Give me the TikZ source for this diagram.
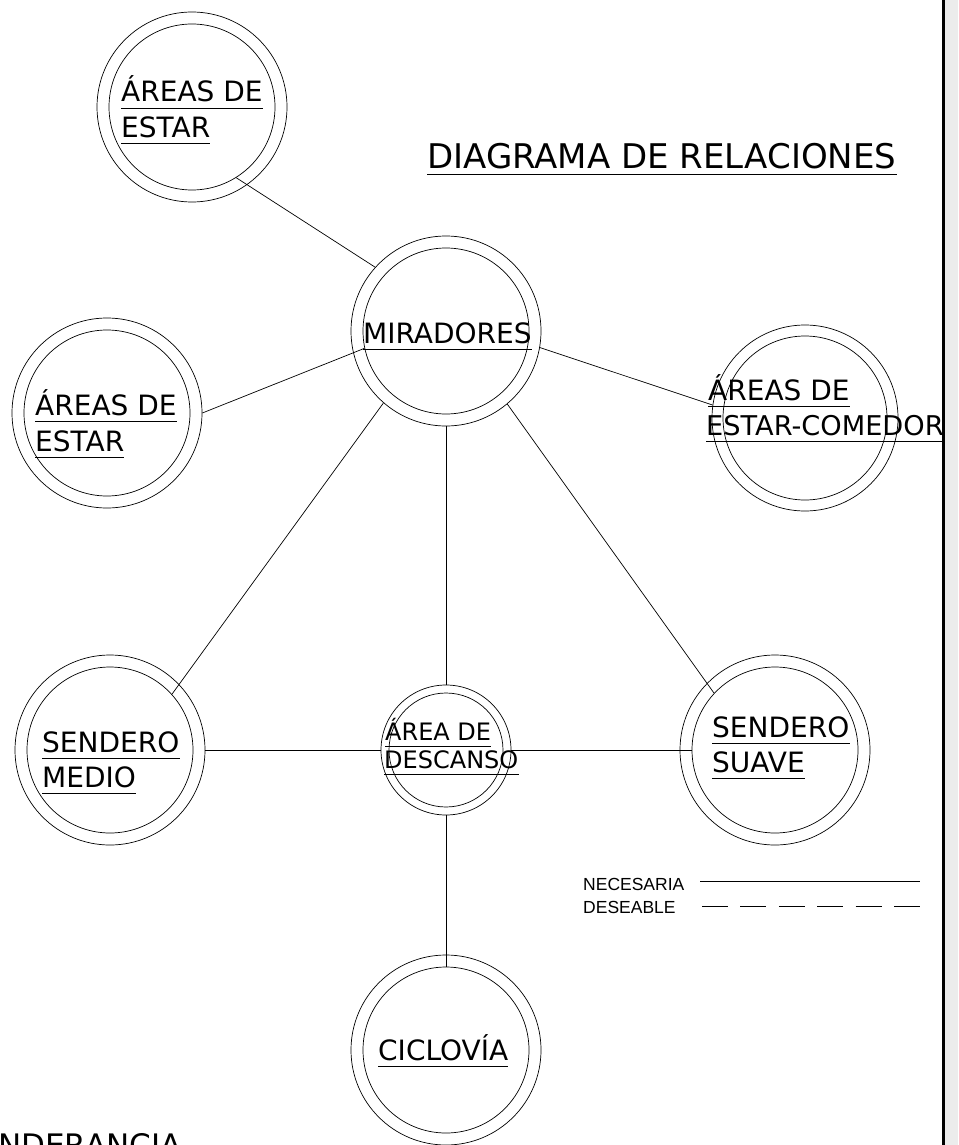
\documentclass[tikz,border=0pt]{standalone}
\usepackage{fontspec}
\setmainfont{DejaVu Sans}
\newfontfamily\leyenda{Liberation Sans}
\usetikzlibrary{positioning, shapes.geometric, calc}

\tikzset{
  anillo/.style={draw, circle, inner sep=0pt, line width=0.7pt, minimum size=190pt},
  nucleo/.style={draw, circle, inner sep=0pt, line width=0.7pt, minimum size=166pt},
  rotulo/.style={anchor=base west, inner sep=0pt, font=\fontsize{28}{34}\selectfont},
  rotulochico/.style={rotulo, font=\fontsize{24}{28}\selectfont},
  enlace/.style={line width=0.7pt},
}

\begin{document}
\begin{tikzpicture}[x=1pt, y=-1pt]
  \useasboundingbox (0,0) rectangle (958,1145);

  % borde derecho de la lamina
  \fill[gray!15] (945,0) rectangle (958,1145);
  \draw[line width=3pt] (943,0) -- (943,1145);

  % titulo
  \node[anchor=base west, inner sep=0pt, font=\fontsize{34}{40}\selectfont] (titulo) at (427,168) {DIAGRAMA DE RELACIONES};

  % espacios (anillo exterior e interior)
  \node[anillo] (estA) at (192,107) {};
  \node[nucleo] (estA-in) at (estA) {};
  \node[anillo] (mir) at (446,331) {};
  \node[nucleo] (mir-in) at (mir) {};
  \node[anillo] (estB) at (107,413) {};
  \node[nucleo] (estB-in) at (estB) {};
  \node[anillo, minimum size=186pt] (com) at (805,418) {};
  \node[nucleo, minimum size=164pt] (com-in) at (com) {};
  \node[anillo] (smed) at (110,750) {};
  \node[nucleo] (smed-in) at (smed) {};
  \node[anillo, minimum size=130pt] (desc) at (446,750) {};
  \node[nucleo, minimum size=114pt] (desc-in) at (desc) {};
  \node[anillo] (suave) at (775,750) {};
  \node[nucleo] (suave-in) at (suave) {};
  \node[anillo] (cic) at (446,1050) {};
  \node[nucleo] (cic-in) at (cic) {};

  % relaciones
  \draw[enlace] (estA-in.302) -- (mir.138);
  \draw[enlace] (estB.east) -- (mir-in.192);
  \draw[enlace] (mir.350) -- (com.172);
  \draw[enlace] (mir.229) -- (smed-in.42);
  \draw[enlace] (mir.310) -- (suave-in.137);
  \draw[enlace] (mir.south) -- (desc.north);
  \draw[enlace] (smed.east) -- (desc.west);
  \draw[enlace] (desc.east) -- (suave-in.west);
  \draw[enlace] (desc.south) -- (cic-in.north);

  % rotulos
  \node[rotulo] (estA1) at (121,102) {ÁREAS DE};
  \node[rotulo] (estA2) at (121,137) {ESTAR};
  \node[rotulo] (mir1) at (363,343) {MIRADORES};
  \node[rotulo] (estB1) at (35,415) {ÁREAS DE};
  \node[rotulo] (estB2) at (35,451) {ESTAR};
  \node[rotulo] (com1) at (708,400) {ÁREAS DE};
  \node[rotulo, font=\fontsize{27.2}{34}\selectfont] (com2) at (706,435) {ESTAR-COMEDOR};
  \node[rotulo] (smed1) at (42,752) {SENDERO};
  \node[rotulo] (smed2) at (42,787) {MEDIO};
  \node[rotulochico] (desc1) at (385,740) {ÁREA DE};
  \node[rotulochico] (desc2) at (384,768) {DESCANSO};
  \node[rotulo] (suave1) at (712,737) {SENDERO};
  \node[rotulo] (suave2) at (712,772) {SUAVE};
  \node[rotulo] (cic1) at (378,1060) {CICLOVÍA};

  % subrayados
  \foreach \r in {titulo, estA1, estA2, mir1, estB1, estB2, com1, com2, smed1, smed2, desc1, desc2, suave1, suave2, cic1}
    \draw[enlace] ([yshift=-6.5pt]\r.base west) -- ([yshift=-6.5pt]\r.base east);

  % leyenda
  \node[anchor=base west, inner sep=0pt, font=\leyenda\fontsize{17.5}{20}\selectfont] (nec) at (583,890) {NECESARIA};
  \node[anchor=base west, inner sep=0pt, font=\leyenda\fontsize{17.5}{20}\selectfont] (des) at (583,913) {DESEABLE};
  \coordinate (nec-a) at (700,881);
  \coordinate (nec-b) at (920,881);
  \coordinate (des-a) at (702,906);
  \coordinate (des-b) at (920,906);
  \draw[enlace] (nec-a) -- (nec-b);
  \draw[enlace, dash pattern=on 26pt off 12.4pt] (des-a) -- (des-b);

  % texto cortado al pie
  \node[anchor=base west, inner sep=0pt, font=\fontsize{31}{36}\selectfont] (pie) at (-2,1156) {NDERANCIA};
\end{tikzpicture}
\end{document}
